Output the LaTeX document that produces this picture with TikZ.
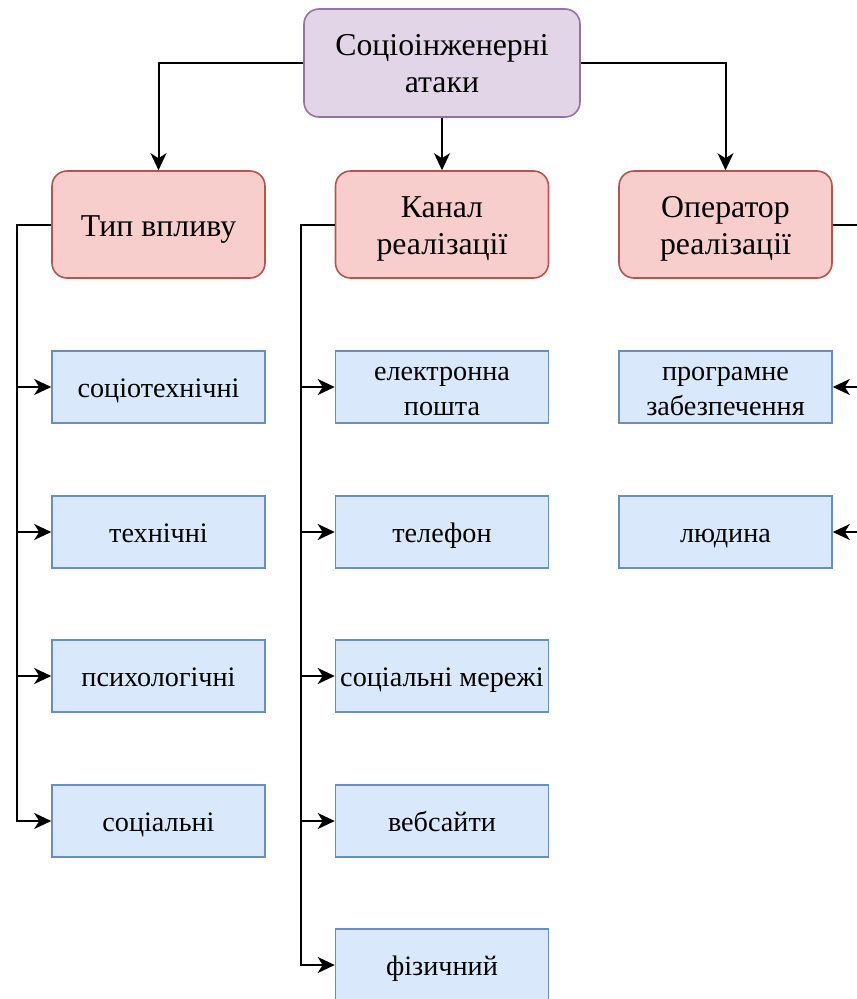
\documentclass[tikz,border=0pt]{standalone}
\usepackage{fontspec}
\setmainfont{Liberation Serif}
\usetikzlibrary{arrows.meta}

\definecolor{rootfill}{HTML}{E1D5E7}
\definecolor{rootline}{HTML}{9673A6}
\definecolor{groupfill}{HTML}{F8CECC}
\definecolor{groupline}{HTML}{B85450}
\definecolor{itemfill}{HTML}{DAE8FC}
\definecolor{itemline}{HTML}{6C8EBF}

\tikzset{
  boxbase/.style={line width=1.6pt, align=center, inner sep=0pt, text depth=0pt},
  rootbox/.style={boxbase, draw=rootline, fill=rootfill, rounded corners=15pt,
    minimum width=276pt, minimum height=108pt, text height=58pt,
    font=\fontsize{31.8}{37}\selectfont},
  groupbox/.style={boxbase, draw=groupline, fill=groupfill, rounded corners=15pt,
    minimum width=213pt, minimum height=107pt, text height=23pt,
    font=\fontsize{31.8}{37}\selectfont},
  grouptwo/.style={groupbox, text height=59pt},
  itembox/.style={boxbase, draw=itemline, fill=itemfill,
    minimum width=213pt, minimum height=72pt, text height=20pt,
    font=\fontsize{28.2}{35.5}\selectfont},
  itemtwo/.style={itembox, text height=57pt},
  conn/.style={draw=black, line width=2pt, -{Stealth[length=17pt,width=16pt,inset=5pt]}},
}

\begin{document}
\begin{tikzpicture}[x=1pt,y=-1pt]
\useasboundingbox (0,0) rectangle (857,999);
\clip (0,0) rectangle (857,999);

% root
\node[rootbox] (root) at (442,63) {Соціоінженерні\\атаки};

% groups
\node[groupbox] (typ)   at (158.5,224.5) {Тип впливу};
\node[grouptwo] (kanal) at (442,224.5) {Канал\\реалізації};
\node[grouptwo] (oper)  at (725.5,224.5) {Оператор\\реалізації};

% items: type of impact
\node[itembox] (t1) at (158.5,387) {соціотехнічні};
\node[itembox] (t2) at (158.5,532) {технічні};
\node[itembox] (t3) at (158.5,676) {психологічні};
\node[itembox] (t4) at (158.5,821) {соціальні};

% items: channel
\node[itemtwo] (k1) at (442,387) {електронна\\пошта};
\node[itembox] (k2) at (442,532) {телефон};
\node[itembox] (k3) at (442,676) {соціальні мережі};
\node[itembox] (k4) at (442,821) {вебсайти};
\node[itembox] (k5) at (442,965) {фізичний};

% items: operator
\node[itemtwo] (o1) at (725.5,387) {програмне\\забезпечення};
\node[itembox] (o2) at (725.5,532) {людина};

% root to groups
\draw[conn] (root.west) -| (typ.north);
\draw[conn] (root.south) -- (kanal.north);
\draw[conn] (root.east) -| (oper.north);

% bus lines
\coordinate (busT) at (17,224.5);
\coordinate (busK) at (301,224.5);
\coordinate (busO) at (870,224.5);

\foreach \n in {t1,t2,t3,t4}
  \draw[conn] (typ.west) -- (busT) |- (\n.west);
\foreach \n in {k1,k2,k3,k4,k5}
  \draw[conn] (kanal.west) -- (busK) |- (\n.west);
\foreach \n in {o1,o2}
  \draw[conn] (oper.east) -- (busO) |- (\n.east);
\end{tikzpicture}
\end{document}
